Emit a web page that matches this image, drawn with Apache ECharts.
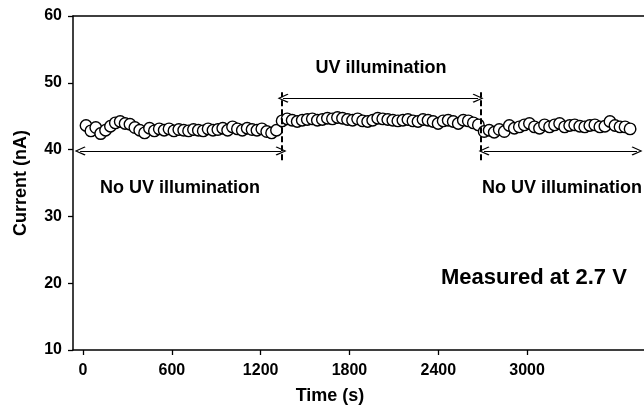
<!DOCTYPE html>
<html>
<head>
<meta charset="utf-8">
<script src="https://cdn.jsdelivr.net/npm/echarts@6/dist/echarts.min.js"></script>
<style>
html,body{margin:0;padding:0;background:#fff;}
#chart{width:644px;height:420px;}
</style>
</head>
<body>
<div id="chart"></div>
<script>
// ---- data ----
var timeS = [
  20,53,86,119,152,185,218,251,284,317,350,383,416,449,482,515,548,581,614,647,
  680,713,746,779,812,845,878,911,944,977,1010,1043,1076,1109,1142,1175,1208,1241,1274,1307,
  1345,1379,1413,1447,1481,1515,1549,1583,1617,1651,1685,1719,1753,1787,1821,1855,1889,1923,1957,1991,
  2025,2059,2093,2127,2161,2195,2229,2263,2297,2331,2365,2399,2433,2467,2501,2535,2569,2603,2637,2671,
  2710,2744,2778,2812,2846,2880,2914,2948,2982,3016,3050,3084,3118,3152,3186,3220,3254,3288,3322,3356,
  3390,3424,3458,3492,3526,3560,3594,3628,3662,3696
];
var currentNA = [
  43.6,42.8,43.3,42.4,42.9,43.5,44.0,44.2,43.9,43.8,43.3,42.9,42.5,43.2,42.8,43.1,42.9,43.1,42.8,43.0,
  42.9,42.8,43.0,42.9,42.8,43.1,42.9,43.0,43.2,42.9,43.4,43.1,42.9,43.2,43.0,42.9,43.1,42.7,42.5,42.9,
  44.3,44.6,44.4,44.2,44.4,44.5,44.6,44.4,44.5,44.7,44.6,44.8,44.7,44.5,44.4,44.6,44.3,44.2,44.4,44.7,
  44.6,44.5,44.4,44.3,44.4,44.5,44.3,44.2,44.5,44.4,44.2,43.9,44.3,44.4,44.2,43.9,44.4,44.3,44.0,43.7,
  42.7,42.9,42.6,43.0,42.7,43.6,43.2,43.4,43.7,43.9,43.4,43.2,43.7,43.4,43.7,43.9,43.4,43.6,43.7,43.5,
  43.4,43.6,43.7,43.4,43.5,44.2,43.6,43.4,43.4,43.1
];
var xTickValues = [0, 600, 1200, 1800, 2400, 3000];
var xTickLabels = ['0', '600', '1200', '1800', '2400', '3000'];
var yTickLabels = ['10', '20', '30', '40', '50', '60'];
// annotation arrows: [startTime, endTime, level]
var arrowSpans = [[-20, 1338, 39.8], [1351, 2669, 47.7], [2709, 3743, 39.8]];
// dashed separators: [time, low, high]
var separators = [[1345, 38.4, 48.6], [2689, 38.4, 48.6]];
var annotationTexts = ['UV illumination', 'No UV illumination', 'No UV illumination', 'Measured at 2.7 V'];

// ---- build ----
var pts = timeS.map(function (t, i) { return [t, currentNA[i]]; });
var FONT = 'Liberation Sans, Arial, sans-serif';
var arrowPath = 'path://M5,0L10,9L9,10L5,2.4L1,10L0,9Z';

var chart = echarts.init(document.getElementById('chart'), null, {renderer: 'canvas'});
var option = {
  animation: false,
  backgroundColor: '#fff',
  grid: {left: 73, right: 0, top: 16, bottom: 70, containLabel: false},
  xAxis: [{
    type: 'value', min: -68, max: 3790, position: 'bottom',
    splitLine: {show: false},
    axisLine: {show: true, onZero: false, lineStyle: {color: '#000', width: 1.5}},
    axisTick: {show: true, inside: false, length: 5, customValues: xTickValues, lineStyle: {color: '#000', width: 1.3}},
    axisLabel: {customValues: xTickValues, margin: 13, color: '#000', fontSize: 16, fontWeight: 'bold', fontFamily: FONT,
      formatter: function (v) { var i = xTickValues.indexOf(v); return i >= 0 ? xTickLabels[i] : ''; }},
    name: 'Time (s)', nameLocation: 'middle', nameGap: 37,
    nameTextStyle: {color: '#000', fontSize: 18, fontWeight: 'bold', fontFamily: FONT, padding: [0, 57, 0, 0]}
  }, {
    type: 'value', min: -68, max: 3790, position: 'top',
    splitLine: {show: false},
    axisLine: {show: true, onZero: false, lineStyle: {color: '#000', width: 1.5}},
    axisTick: {show: false}, axisLabel: {show: false}
  }],
  yAxis: {
    type: 'value', min: 10, max: 60, interval: 10,
    splitLine: {show: false},
    axisLine: {show: true, onZero: false, lineStyle: {color: '#000', width: 1.5}},
    axisTick: {show: true, inside: false, length: 5, lineStyle: {color: '#000', width: 1.3}},
    axisLabel: {margin: 11, color: '#000', fontSize: 16, fontWeight: 'bold', fontFamily: FONT,
      formatter: function (v) { var i = yTickLabels.indexOf(String(v)); return i >= 0 ? yTickLabels[i] : ''; }},
    name: 'Current (nA)', nameLocation: 'middle', nameGap: 43,
    nameTextStyle: {color: '#000', fontSize: 18, fontWeight: 'bold', fontFamily: FONT}
  },
  series: [{
    type: 'scatter', data: pts, symbol: 'circle', symbolSize: 11.5,
    itemStyle: {color: '#fff', borderColor: '#000', borderWidth: 1.4, opacity: 1},
    z: 3,
    markLine: {
      silent: true, symbol: [arrowPath, arrowPath], symbolSize: [9, 11],
      lineStyle: {color: '#000', width: 1.2, type: 'solid'},
      label: {show: false},
      data: arrowSpans.map(function (a) { return [{coord: [a[0], a[2]]}, {coord: [a[1], a[2]]}]; })
    }
  }, {
    type: 'scatter', data: [], z: 4,
    markLine: {
      silent: true, symbol: ['none', 'none'],
      lineStyle: {color: '#000', width: 2, type: [6, 3]},
      label: {show: false},
      data: separators.map(function (s) { return [{coord: [s[0], s[1]]}, {coord: [s[0], s[2]]}]; })
    }
  }],
  graphic: [
    {type: 'text', x: 381, y: 68, style: {text: annotationTexts[0], font: 'bold 18px ' + FONT, fill: '#000', textAlign: 'center', textVerticalAlign: 'middle'}},
    {type: 'text', x: 180, y: 188, style: {text: annotationTexts[1], font: 'bold 18px ' + FONT, fill: '#000', textAlign: 'center', textVerticalAlign: 'middle'}},
    {type: 'text', x: 562, y: 188, style: {text: annotationTexts[2], font: 'bold 18px ' + FONT, fill: '#000', textAlign: 'center', textVerticalAlign: 'middle'}},
    {type: 'text', x: 441, y: 278, style: {text: annotationTexts[3], font: 'bold 22px ' + FONT, fill: '#000', textAlign: 'left', textVerticalAlign: 'middle'}}
  ]
};
chart.setOption(option);
</script>
</body>
</html>
